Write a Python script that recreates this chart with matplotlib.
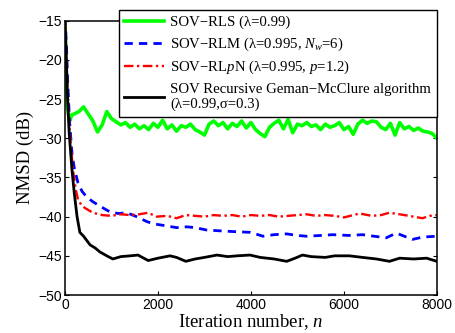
import matplotlib
matplotlib.use("Agg")
import matplotlib.pyplot as plt
import numpy as np

# ---------------- data ----------------
n_rls = [0, 25, 50, 100, 150, 200, 300, 400, 500, 600, 700, 800, 900, 1000,
         1100, 1200, 1300, 1400, 1500, 1600, 1700, 1800, 1900, 2000,
         2100, 2200, 2300, 2400, 2500, 2600, 2700, 2800, 2900, 3000,
         3100, 3200, 3300, 3400, 3500, 3600, 3700, 3800, 3900, 4000,
         4100, 4200, 4300, 4400, 4500, 4600, 4700, 4800, 4900, 5000,
         5100, 5200, 5300, 5400, 5500, 5600, 5700, 5800, 5900, 6000,
         6100, 6200, 6300, 6400, 6500, 6600, 6700, 6800, 6900, 7000,
         7100, 7200, 7300, 7400, 7500, 7600, 7700, 7800, 7900, 8000]
rls = [-15, -22, -26, -27.8, -27.0, -26.9, -26.6, -26.0, -26.9, -27.8, -29.2, -28.3, -26.6, -27.5,
       -27.9, -28.3, -28.0, -28.6, -28.2, -28.8, -28.4, -28.9, -28.1, -28.6,
       -27.7, -28.8, -28.3, -29.1, -28.4, -28.6, -28.2, -28.9, -29.2, -29.6,
       -28.2, -27.8, -28.4, -28.0, -28.8, -28.1, -28.5, -27.8, -28.7, -28.0,
       -28.9, -29.4, -29.8, -28.6, -28.1, -27.7, -28.8, -27.6, -29.3, -28.2,
       -28.4, -28.0, -28.5, -28.3, -28.9, -28.2, -28.6, -28.4, -28.0, -28.9,
       -28.5, -29.5, -28.2, -27.7, -28.1, -27.8, -27.9, -28.6, -28.9, -28.1,
       -29.6, -28.0, -28.8, -28.5, -29.0, -28.7, -29.1, -29.2, -29.4, -30.0]

n_rlm = [0, 30, 60, 100, 150, 200, 280, 370, 470, 600, 710, 850, 970, 1150, 1330,
         1500, 1610, 1750, 1890, 2100, 2400, 2620, 2800, 3040, 3300, 3600, 3980,
         4100, 4260, 4500, 4770, 5000, 5200, 5500, 5760, 6100, 6400, 6650, 6910,
         7130, 7300, 7480, 7700, 8000]
rlm = [-14.5, -18, -23, -28, -31.9, -33.8, -35.7, -36.8, -37.5, -38.1, -38.5, -39.0, -39.4, -39.6, -39.5,
       -39.9, -40.2, -40.6, -40.9, -41.1, -41.4, -41.3, -41.4, -41.7, -41.8, -41.9, -42.0,
       -42.2, -42.5, -42.3, -42.2, -42.4, -42.5, -42.4, -42.3, -42.4, -42.3, -42.5, -42.7,
       -42.1, -42.5, -42.9, -42.6, -42.5]

n_rlpn = [0, 30, 60, 100, 170, 230, 280, 350, 430, 600, 800, 1000, 1200, 1400, 1600,
          1790, 1970, 2200, 2400, 2600, 2800, 3000, 3200, 3400, 3600, 3800, 4000,
          4200, 4400, 4600, 4800, 5000, 5200, 5400, 5600, 5800, 6000, 6340, 6600,
          6800, 6980, 7200, 7400, 7690, 7850, 8000]
rlpn = [-15, -20, -25, -29, -34.0, -36.5, -37.8, -38.5, -38.9, -39.5, -39.8, -39.9, -39.7, -39.8, -39.7,
        -39.5, -40.0, -39.9, -40.2, -39.8, -39.9, -40.0, -39.8, -39.9, -39.8, -40.0, -39.8,
        -39.9, -39.8, -40.0, -39.9, -39.8, -39.7, -39.9, -39.8, -39.9, -40.1, -39.6, -39.9,
        -39.8, -39.5, -39.7, -39.9, -40.2, -39.9, -39.8]

n_gmc = [0, 25, 50, 75, 90, 150, 200, 260, 320, 400, 540, 650, 750, 900, 1030,
         1200, 1400, 1570, 1790, 2000, 2260, 2400, 2600, 2800, 3000, 3270, 3500,
         3700, 3980, 4200, 4500, 4770, 4950, 5110, 5300, 5600, 5800, 6120, 6400,
         6700, 6980, 7200, 7500, 7780, 8000]
gmc = [-15, -19, -24, -27.5, -29.3, -34, -37, -40, -42, -42.5, -43.6, -44.0, -44.5, -45.0, -45.4,
       -45.1, -45.0, -44.9, -45.6, -45.3, -45.0, -45.2, -45.7, -45.4, -45.2, -44.9, -45.1,
       -45.0, -44.9, -45.2, -45.4, -45.7, -45.3, -44.9, -45.1, -45.2, -45.0, -45.0, -45.2,
       -45.4, -45.7, -45.3, -45.4, -45.3, -45.7]

labels = ['SOV\u2212RLS (\u03bb=0.99)',
          'SOV\u2212RLM (\u03bb=0.995, $N_w$=6)',
          'SOV\u2212RL$p$N (\u03bb=0.995, $p$=1.2)',
          'SOV Recursive Geman\u2212McClure algorithm\n(\u03bb=0.99,\u03c3=0.3)']
xticks = [0, 2000, 4000, 6000, 8000]
yticks = [-50, -45, -40, -35, -30, -25, -20, -15]

# ---------------- style ----------------
plt.rcParams['mathtext.fontset'] = 'custom'
plt.rcParams['mathtext.rm'] = 'Liberation Serif'
plt.rcParams['mathtext.it'] = 'Liberation Serif:italic'

fig = plt.figure(figsize=(4.56, 3.33), dpi=100)
ax = fig.add_axes([0.1425, 0.114, 0.958 - 0.1425, 0.938 - 0.114])

l1, = ax.plot(n_rls, rls, color='#00ff00', lw=2.6, solid_joinstyle='round')
l2, = ax.plot(n_rlm, rlm, color='#0000ff', lw=2.0, ls=(0, (3, 2.2)))
l3, = ax.plot(n_rlpn, rlpn, color='#ff0000', lw=1.7, ls=(0, (4, 1.5, 1, 1.5)))
l4, = ax.plot(n_gmc, gmc, color='black', lw=2.0)

ax.set_xlim(0, 8000)
ax.set_ylim(-50, -15)
ax.set_xticks(xticks)
ax.set_yticks(yticks)
ax.set_xticklabels([str(t) for t in xticks], family='Liberation Sans', fontsize=10)
ax.set_yticklabels([('\u2212%d' % -t) for t in yticks], family='Liberation Sans', fontsize=10)
ax.tick_params(direction='in', top=True, right=True, length=3, width=0.8, pad=2)
for s in ax.spines.values():
    s.set_linewidth(1.1)

ax.set_xlabel('Iteration number, $n$', family='Liberation Serif', fontsize=13.5, labelpad=0)
ax.set_ylabel('NMSD (dB)', family='Liberation Serif', fontsize=13.5, labelpad=3)

leg = fig.legend([l1, l2, l3, l4], labels,
                 loc='upper right', bbox_to_anchor=(0.958, 0.97),
                 prop={'family': 'Liberation Serif', 'size': 10.6},
                 frameon=True, fancybox=False, edgecolor='black',
                 framealpha=1, handlelength=2.7, handletextpad=0.4,
                 borderpad=0.4, labelspacing=0.42, borderaxespad=0)
leg.get_frame().set_linewidth(1.0)

fig.savefig('out.png', dpi=100, facecolor='white')
